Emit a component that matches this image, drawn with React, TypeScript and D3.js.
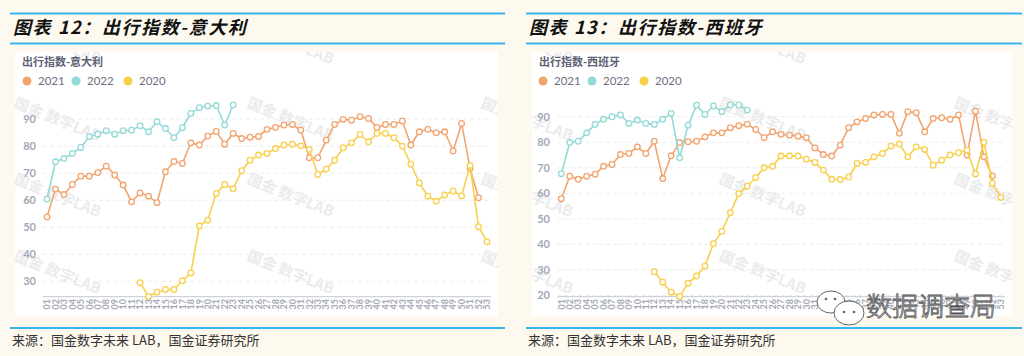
import React from "react";
import * as d3 from "d3";

const WEEKS = [
  "01","02","03","04","05","06","07","08","09","10",
  "11","12","13","14","15","16","17","18","19","20",
  "21","22","23","24","25","26","27","28","29","30",
  "31","32","33","34","35","36","37","38","39","40",
  "41","42","43","44","45","46","47","48","49","50",
  "51","52","53",
];

const SERIES_NAMES = ["2021", "2022", "2020"];
const SERIES_COLORS = ["#f2a46f", "#93dad7", "#f7d04c"];

// Italy
const ITALY_2021 = [
  53.8, 64.1, 62.1, 65.8, 68.9, 68.9, 70.2, 72.6, 69.3, 65.6,
  59.4, 62.7, 61.5, 59.1, 70.5, 74.3, 73.6, 81.2, 80.4, 83.7,
  85.4, 80.7, 84.7, 82.8, 83.3, 83.6, 86.2, 86.9, 87.8, 88,
  85.9, 75.7, 75.7, 82.2, 88, 89.9, 89.6, 90.9, 90.2, 86.9,
  88, 88, 89.3, 80.4, 85.3, 86.2, 84.9, 85.3, 78.2, 88.4,
  71.7, 60.9,
];
const ITALY_2022 = [
  60.4, 74.2, 75.4, 77.3, 79.5, 83.5, 84.4, 85.7, 84.4, 85.7,
  85.9, 87.5, 85.3, 89, 86.5, 83.1, 86.8, 92.1, 94.2, 94.8,
  95, 87.8, 95.2,
];
const ITALY_2020 = [
  null, null, null, null, null, null, null, null, null, null,
  null, 29.5, 24.4, 26, 27, 27, 30.2, 33.1, 50.5, 52.6,
  62.5, 65.8, 64.2, 70.9, 74.8, 76.7, 77.3, 79.1, 80.4, 80.7,
  80.1, 78.8, 69.5, 71.5, 74.8, 79.4, 81.2, 84.3, 81.6, 84.7,
  84.7, 83.1, 80, 73.3, 66.4, 61.5, 59.6, 61.9, 63.4, 61.6,
  72.8, 50.2, 44.6,
];

// Spain
const SPAIN_2021 = [
  57.9, 66.7, 65.5, 66.7, 67.5, 70.6, 71.3, 75.2, 75.6, 78.2,
  75.6, 80.4, 65.8, 74.7, 79.9, 80.2, 80.4, 82.1, 83.7, 83.7,
  85.7, 86.5, 87.1, 85, 81.8, 84.1, 83.1, 82.8, 82.4, 81.8,
  77.8, 75.2, 74.6, 78.9, 85.7, 88, 89.3, 90.7, 90.9, 90.9,
  83.5, 92, 91.6, 84.1, 89.3, 89.6, 89, 90.7, 75, 92.2,
  74.3, 66.8,
];
const SPAIN_2022 = [
  67.7, 79.9, 80.4, 83.7, 87, 89, 90, 90.7, 87.4, 88.7,
  87.4, 87, 89, 91.3, 73.9, 86.7, 94.5, 90.9, 94.2, 92,
  94.6, 94.6, 92.6,
];
const SPAIN_2020 = [
  null, null, null, null, null, null, null, null, null, null,
  null, 29.3, 25.2, 21.3, 19.6, 24.8, 27.6, 31.5, 40.3, 45.1,
  52.4, 59.9, 62.8, 66.2, 70, 70.6, 74.6, 74.7, 74.6, 73.4,
  72.1, 69.1, 65.5, 65.4, 66.4, 71.7, 72.1, 74.3, 75.6, 78.5,
  79.3, 74.3, 78.2, 77.2, 71, 73, 75, 75.9, 76.9, 67.6,
  80, 64, 58.4,
];

const TITLES = ["图表 12：出行指数-意大利", "图表 13：出行指数-西班牙"];
const CHART_TITLES = ["出行指数-意大利", "出行指数-西班牙"];
const SOURCE = "来源：国金数字未来 LAB，国金证券研究所";
const WATERMARK = "国金 数字LAB";

type Layout = {
  id: string;
  lineX0: number;
  lineX1: number;
  titleX: number;
  whiteX0: number;
  whiteX1: number;
  plotX0: number;
  plotX1: number;
  yLabelX: number;
  chartTitleX: number;
  legendX: number;
  wmCols: number[];
};

const LAYOUTS: Layout[] = [
  { id: "it", lineX0: 10, lineX1: 505, titleX: 13, whiteX0: 15, whiteX1: 498, plotX0: 47, plotX1: 487, yLabelX: 36, chartTitleX: 22, legendX: 27, wmCols: [13, 246, 480] },
  { id: "es", lineX0: 526, lineX1: 1022, titleX: 529, whiteX0: 532, whiteX1: 1012, plotX0: 561.3, plotX1: 1000.8, yLabelX: 550, chartTitleX: 539, legendX: 543, wmCols: [485, 718, 953] },
];

const FONT = "Lato, 'Noto Sans CJK SC', sans-serif";
const CJK = "'Noto Sans CJK SC', sans-serif";

function Panel({ layout, title, chartTitle, series }: { layout: Layout; title: string; chartTitle: string; series: (number | null)[][] }) {
  const all = series.flat().filter((v): v is number => v != null);
  const [mn, mx] = d3.extent(all) as [number, number];
  const y = d3.scaleLinear().domain([mn, mx]).range([296.5, 105]);
  const x = d3.scalePoint<string>().domain(WEEKS).range([layout.plotX0, layout.plotX1]);
  const ticks = d3.range(Math.ceil(mn / 10) * 10, mx + 0.001, 10);
  const axisX0 = layout.plotX0 - 4;
  const axisX1 = layout.plotX1 + 4;
  const clipId = "clip-" + layout.id;
  const wmRows = [20, 97, 173, 250];
  const legendOffsets = [0, 49, 101];

  const line = d3
    .line<number | null>()
    .defined((d) => d != null)
    .x((_, i) => x(WEEKS[i]) as number)
    .y((d) => y(d as number));

  const drawOrder = [0, 1, 2];

  return (
    <g>
      <defs>
        <clipPath id={clipId}>
          <rect x={layout.whiteX0} y={52} width={layout.whiteX1 - layout.whiteX0} height={264} />
        </clipPath>
      </defs>
      {/* header lines */}
      <line x1={layout.lineX0} x2={layout.lineX1} y1={13.5} y2={13.5} stroke="#36b4ee" strokeWidth={2} />
      <text x={layout.titleX} y={34} fontFamily={CJK} fontSize={18} fontWeight={700} fontStyle="italic" letterSpacing={1.6} fill="#111">
        {title}
      </text>
      <line x1={layout.lineX0} x2={layout.lineX1} y1={43.5} y2={43.5} stroke="#36b4ee" strokeWidth={2} />

      {/* chart white area */}
      <rect x={layout.whiteX0} y={52} width={layout.whiteX1 - layout.whiteX0} height={264} fill="#ffffff" />
      <g clipPath={`url(#${clipId})`}>
        {wmRows.map((ry) =>
          layout.wmCols.map((cx) => (
            <text
              key={`${ry}-${cx}`}
              transform={`translate(${cx},${ry + 10}) rotate(22)`}
              fontFamily={CJK}
              fontSize={15}
              fontWeight={700}
              fill="#ebebed"
            >
              {WATERMARK}
            </text>
          ))
        )}
      </g>

      <text x={layout.chartTitleX} y={66} fontFamily={CJK} fontSize={11} fontWeight={700} fill="#5d6175">
        {chartTitle}
      </text>
      {SERIES_NAMES.map((name, i) => (
        <g key={name}>
          <circle cx={layout.legendX + legendOffsets[i]} cy={81} r={4.5} fill={SERIES_COLORS[i]} />
          <text x={layout.legendX + legendOffsets[i] + 11} y={85} fontFamily={FONT} fontSize={11.5} fill="#6b6f80">
            {name}
          </text>
        </g>
      ))}

      {/* grid */}
      {ticks.map((t) => (
        <g key={t}>
          <line x1={axisX0} x2={axisX1} y1={y(t)} y2={y(t)} stroke="#ececf0" strokeDasharray="4,3" strokeWidth={1} />
          <text x={layout.yLabelX} y={y(t) + 4} textAnchor="end" fontFamily={FONT} fontSize={11} fontWeight={700} fill="#a4a8b6">
            {t}
          </text>
        </g>
      ))}
      <line x1={axisX0} x2={axisX1} y1={296.7} y2={296.7} stroke="#cfd2db" strokeWidth={1.2} />
      {WEEKS.map((w) => (
        <text
          key={w}
          transform={`translate(${(x(w) as number) + 3.2},299) rotate(-90)`}
          textAnchor="end"
          fontFamily={FONT}
          fontSize={9}
          fontWeight={700}
          fill="#a4a8b6"
        >
          {w}
        </text>
      ))}

      {/* series */}
      {drawOrder.map((si) => (
        <g key={si}>
          <path d={line(series[si]) || ""} fill="none" stroke={SERIES_COLORS[si]} strokeWidth={1.6} />
          {series[si].map((v, i) =>
            v == null ? null : (
              <circle key={i} cx={x(WEEKS[i]) as number} cy={y(v)} r={2.8} fill="#fff" stroke={SERIES_COLORS[si]} strokeWidth={1.3} />
            )
          )}
        </g>
      ))}

      {/* footer */}
      <line x1={layout.lineX0} x2={layout.lineX1} y1={328} y2={328} stroke="#36b4ee" strokeWidth={2} />
      <text x={layout.titleX - 1} y={345} fontFamily={CJK} fontSize={13} fill="#333">
        {SOURCE}
      </text>
    </g>
  );
}

export default function App() {
  return (
    <svg width={1024} height={356} style={{ position: "absolute", left: 0, top: 0 }}>
      <rect x={0} y={0} width={1024} height={356} fill="#fef9ef" />
      <Panel layout={LAYOUTS[0]} title={TITLES[0]} chartTitle={CHART_TITLES[0]} series={[ITALY_2021, ITALY_2022, ITALY_2020]} />
      <Panel layout={LAYOUTS[1]} title={TITLES[1]} chartTitle={CHART_TITLES[1]} series={[SPAIN_2021, SPAIN_2022, SPAIN_2020]} />
      {/* WeChat overlay */}
      <g>
        <ellipse cx={831} cy={302} rx={14} ry={11} fill="#fff" stroke="#666" strokeWidth={1} />
        <circle cx={826} cy={299} r={1.3} fill="#666" />
        <circle cx={835} cy={299} r={1.3} fill="#666" />
        <ellipse cx={849} cy={313} rx={15} ry={12} fill="#fff" stroke="#666" strokeWidth={1} />
        <circle cx={844} cy={312} r={1.3} fill="#666" />
        <circle cx={854} cy={312} r={1.3} fill="#666" />
        <text x={866} y={316} fontFamily={CJK} fontSize={26} fontWeight={300} fill="#fff" stroke="#555" strokeWidth={0.8}>
          数据调查局
        </text>
      </g>
    </svg>
  );
}
